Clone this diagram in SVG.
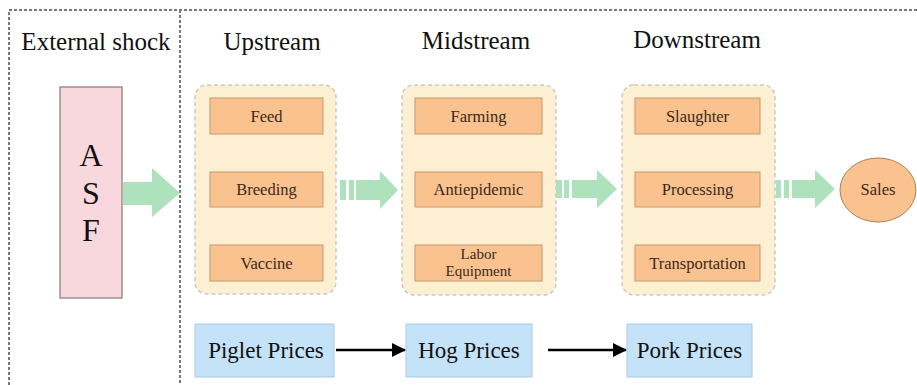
<svg xmlns="http://www.w3.org/2000/svg" width="917" height="385" viewBox="0 0 917 385">
<defs>
<style>
.hdr{font-family:"Liberation Serif",serif;font-size:25px;fill:#111;text-anchor:middle}
.lbl{font-family:"Liberation Serif",serif;font-size:16.5px;fill:#3a2a1a;text-anchor:middle}
.lbl2{font-family:"Liberation Serif",serif;font-size:15px;fill:#3a2a1a;text-anchor:middle}
.price{font-family:"Liberation Serif",serif;font-size:23px;fill:#111;text-anchor:middle}
.frame{fill:none;stroke:#777;stroke-width:2;stroke-dasharray:3 2}
.cont{fill:#fdf0d2;stroke:#c9c9c9;stroke-width:1.5;stroke-dasharray:4 3}
.box{fill:#f9c28f;stroke:#c59a6e;stroke-width:1}
.pbox{fill:#c4e2f8;stroke:#a9cbe8;stroke-width:1}
.garrow{fill:#ade2bd}
.conn{stroke:#000;stroke-width:2.5;fill:none}
</style>
<marker id="ah" markerWidth="14" markerHeight="14" refX="13" refY="7" orient="auto" markerUnits="userSpaceOnUse">
<path d="M0,0 L14,7 L0,14 Z" fill="#000"/>
</marker>
</defs>
<rect width="917" height="385" fill="#fff"/>
<g id="frame">
<path class="frame" d="M9,395 V10 H917"/>
<path class="frame" d="M180,10 V395"/>
</g>
<g id="headers">
<text class="hdr" x="96" y="50">External shock</text>
<text class="hdr" x="272" y="50">Upstream</text>
<text class="hdr" x="476" y="49">Midstream</text>
<text class="hdr" x="697" y="48">Downstream</text>
</g>
<g id="asf">
<rect x="60" y="87" width="62" height="211" fill="#f8d8dc" stroke="#887878" stroke-width="1.2"/>
<text x="91" y="166" font-family="Liberation Serif,serif" font-size="32" text-anchor="middle" fill="#111">A</text>
<text x="91" y="204" font-family="Liberation Serif,serif" font-size="32" text-anchor="middle" fill="#111">S</text>
<text x="91" y="241" font-family="Liberation Serif,serif" font-size="32" text-anchor="middle" fill="#111">F</text>
</g>
<g id="upstream">
<rect class="cont" x="195" y="85" width="141" height="209" rx="12"/>
<g id="feed"><rect class="box" x="210" y="98" width="113" height="36"/><text class="lbl" x="266.5" y="122">Feed</text></g>
<g id="breeding"><rect class="box" x="210" y="172" width="113" height="35"/><text class="lbl" x="266.5" y="195">Breeding</text></g>
<g id="vaccine"><rect class="box" x="210" y="245" width="113" height="36"/><text class="lbl" x="266.5" y="269">Vaccine</text></g>
</g>
<g id="midstream">
<rect class="cont" x="402" y="85" width="154" height="210" rx="12"/>
<g id="farming"><rect class="box" x="415" y="98" width="127" height="36"/><text class="lbl" x="478.5" y="122">Farming</text></g>
<g id="antiepidemic"><rect class="box" x="415" y="172" width="127" height="35"/><text class="lbl" x="478.5" y="195">Antiepidemic</text></g>
<g id="labor"><rect class="box" x="415" y="245" width="127" height="36"/><text class="lbl2" x="478.5" y="259">Labor</text><text class="lbl2" x="478.5" y="276">Equipment</text></g>
</g>
<g id="downstream">
<rect class="cont" x="622" y="85" width="153" height="210" rx="12"/>
<g id="slaughter"><rect class="box" x="635" y="98" width="125" height="36"/><text class="lbl" x="697.5" y="122">Slaughter</text></g>
<g id="processing"><rect class="box" x="635" y="172" width="125" height="35"/><text class="lbl" x="697.5" y="195">Processing</text></g>
<g id="transportation"><rect class="box" x="635" y="245" width="125" height="36"/><text class="lbl" x="697.5" y="269">Transportation</text></g>
</g>
<g id="sales">
<ellipse cx="878" cy="190" rx="38" ry="32" fill="#f9c28f" stroke="#a8805a" stroke-width="1"/>
<text class="lbl" x="878" y="195">Sales</text>
</g>
<g id="prices">
<g id="piglet"><rect class="pbox" x="195" y="324" width="139" height="53"/><text class="price" x="266" y="358">Piglet Prices</text></g>
<g id="hog"><rect class="pbox" x="406" y="324" width="126" height="53"/><text class="price" x="469" y="358">Hog Prices</text></g>
<g id="pork"><rect class="pbox" x="627" y="324" width="125" height="53"/><text class="price" x="689.5" y="358">Pork Prices</text></g>
</g>
<g id="connectors">
<path class="garrow" d="M123,182 H152 V168 L180,193 L152,217 V205 H123 Z"/>
<rect class="garrow" x="340" y="180" width="6" height="20"/>
<rect class="garrow" x="349" y="180" width="5" height="20"/>
<path class="garrow" d="M356,180 H380 V171 L398,190 L380,209 V200 H356 Z"/>
<rect class="garrow" x="556" y="180" width="6" height="18"/>
<rect class="garrow" x="564" y="180" width="5" height="18"/>
<path class="garrow" d="M572,180 H597 V170 L617,189 L597,208 V198 H572 Z"/>
<rect class="garrow" x="776" y="180" width="5" height="18"/>
<rect class="garrow" x="784" y="180" width="5" height="18"/>
<path class="garrow" d="M792,180 H815 V170 L835,189 L815,208 V198 H792 Z"/>
<line class="conn" x1="336" y1="350" x2="405" y2="350" marker-end="url(#ah)"/>
<line class="conn" x1="548" y1="350" x2="626" y2="350" marker-end="url(#ah)"/>
</g>
</svg>
